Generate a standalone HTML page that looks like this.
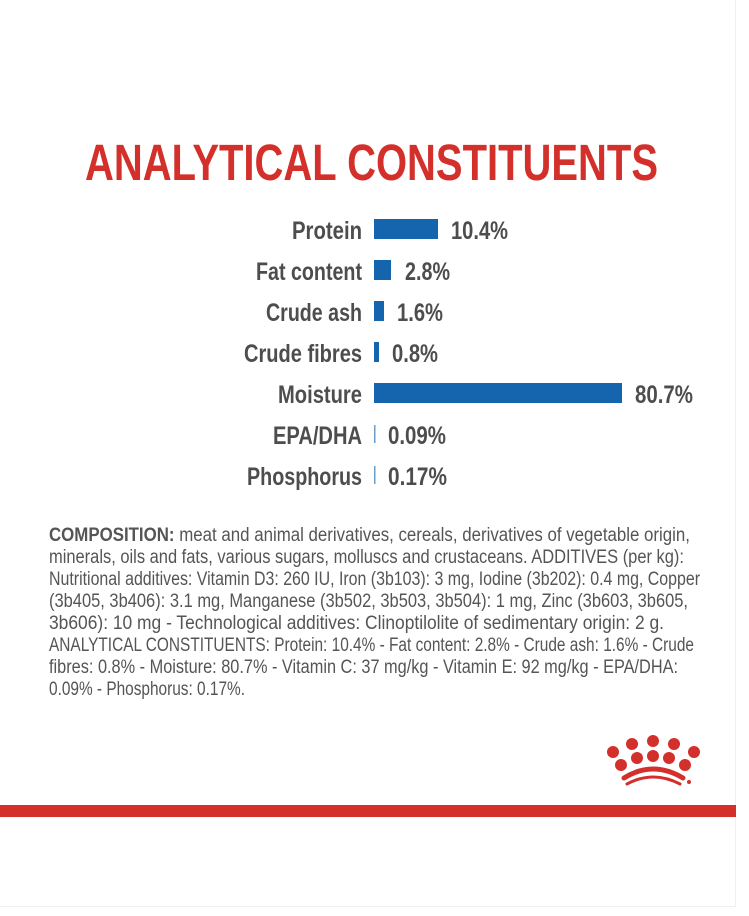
<!DOCTYPE html>
<html><head><meta charset="utf-8"><style>
html,body{margin:0;padding:0;background:#fff}
svg{display:block}
</style></head><body>
<svg width="749" height="916" viewBox="0 0 749 916" xmlns="http://www.w3.org/2000/svg">
<rect width="749" height="916" fill="#fff"/>
<rect x="735" y="0" width="1" height="907" fill="#f0f0f0"/>
<rect x="0" y="906" width="736" height="1" fill="#f0f0f0"/>
<text x="85" y="180" font-family="Liberation Sans Narrow, Liberation Sans, sans-serif" font-weight="bold" font-size="51" fill="#d3302b" textLength="573" lengthAdjust="spacingAndGlyphs">ANALYTICAL CONSTITUENTS</text>
<g font-family="Liberation Sans Narrow, Liberation Sans, sans-serif" font-weight="bold" font-size="25" fill="#4d4d4d">
<text x="292" y="239" textLength="70" lengthAdjust="spacingAndGlyphs">Protein</text>
<text x="256" y="280" textLength="106" lengthAdjust="spacingAndGlyphs">Fat content</text>
<text x="266" y="321" textLength="96" lengthAdjust="spacingAndGlyphs">Crude ash</text>
<text x="244" y="362" textLength="118" lengthAdjust="spacingAndGlyphs">Crude fibres</text>
<text x="278" y="403" textLength="84" lengthAdjust="spacingAndGlyphs">Moisture</text>
<text x="273" y="444" textLength="89" lengthAdjust="spacingAndGlyphs">EPA/DHA</text>
<text x="247" y="485" textLength="115" lengthAdjust="spacingAndGlyphs">Phosphorus</text>
<text x="451" y="239" textLength="57" lengthAdjust="spacingAndGlyphs">10.4%</text>
<text x="405" y="280" textLength="45" lengthAdjust="spacingAndGlyphs">2.8%</text>
<text x="397" y="321" textLength="46" lengthAdjust="spacingAndGlyphs">1.6%</text>
<text x="392" y="362" textLength="46" lengthAdjust="spacingAndGlyphs">0.8%</text>
<text x="635" y="403" textLength="58" lengthAdjust="spacingAndGlyphs">80.7%</text>
<text x="388" y="444" textLength="58" lengthAdjust="spacingAndGlyphs">0.09%</text>
<text x="388" y="485" textLength="59" lengthAdjust="spacingAndGlyphs">0.17%</text>
</g>
<g fill="#1464ae">
<rect x="374" y="219" width="64" height="20"/>
<rect x="374" y="260" width="17" height="20"/>
<rect x="374" y="301" width="10" height="20"/>
<rect x="374" y="342" width="5" height="20"/>
<rect x="374" y="383" width="248" height="20"/>
<rect x="374" y="425" width="1.5" height="18" fill="#6a9ccc"/>
<rect x="374" y="466" width="1.5" height="18" fill="#6a9ccc"/>
</g>
<g font-family="Liberation Sans Narrow, Liberation Sans, sans-serif" font-size="19" fill="#555">
<text x="49" y="541" textLength="641" lengthAdjust="spacingAndGlyphs"><tspan font-weight="bold">COMPOSITION:</tspan> meat and animal derivatives, cereals, derivatives of vegetable origin,</text>
<text x="49" y="563" textLength="635" lengthAdjust="spacingAndGlyphs">minerals, oils and fats, various sugars, molluscs and crustaceans. ADDITIVES (per kg):</text>
<text x="49" y="585" textLength="651" lengthAdjust="spacingAndGlyphs">Nutritional additives: Vitamin D3: 260 IU, Iron (3b103): 3 mg, Iodine (3b202): 0.4 mg, Copper</text>
<text x="49" y="607" textLength="639" lengthAdjust="spacingAndGlyphs">(3b405, 3b406): 3.1 mg, Manganese (3b502, 3b503, 3b504): 1 mg, Zinc (3b603, 3b605,</text>
<text x="49" y="629" textLength="615" lengthAdjust="spacingAndGlyphs">3b606): 10 mg - Technological additives: Clinoptilolite of sedimentary origin: 2 g.</text>
<text x="49" y="651" textLength="645" lengthAdjust="spacingAndGlyphs">ANALYTICAL CONSTITUENTS: Protein: 10.4% - Fat content: 2.8% - Crude ash: 1.6% - Crude</text>
<text x="49" y="673" textLength="629" lengthAdjust="spacingAndGlyphs">fibres: 0.8% - Moisture: 80.7% - Vitamin C: 37 mg/kg - Vitamin E: 92 mg/kg - EPA/DHA:</text>
<text x="49" y="695" textLength="196" lengthAdjust="spacingAndGlyphs">0.09% - Phosphorus: 0.17%.</text>
</g>
<g fill="#d3302b">
<circle cx="613" cy="752" r="6"/>
<circle cx="632" cy="744" r="6"/>
<circle cx="653" cy="741" r="6"/>
<circle cx="674" cy="744" r="6"/>
<circle cx="694" cy="752" r="6"/>
<circle cx="621" cy="765" r="6"/>
<circle cx="637" cy="758" r="6"/>
<circle cx="653" cy="756" r="6"/>
<circle cx="669" cy="758" r="6"/>
<circle cx="685" cy="765" r="6"/>
</g>
<path d="M624 778 Q653 760 683 778" stroke="#d3302b" stroke-width="5" fill="none" stroke-linecap="round"/>
<path d="M627 784 Q653 770 680 784" stroke="#d3302b" stroke-width="3" fill="none" stroke-linecap="round"/>
<circle cx="689" cy="782" r="2" fill="#d3302b"/>
<rect x="0" y="805" width="736" height="12" fill="#d3302b"/>
</svg>
</body></html>
